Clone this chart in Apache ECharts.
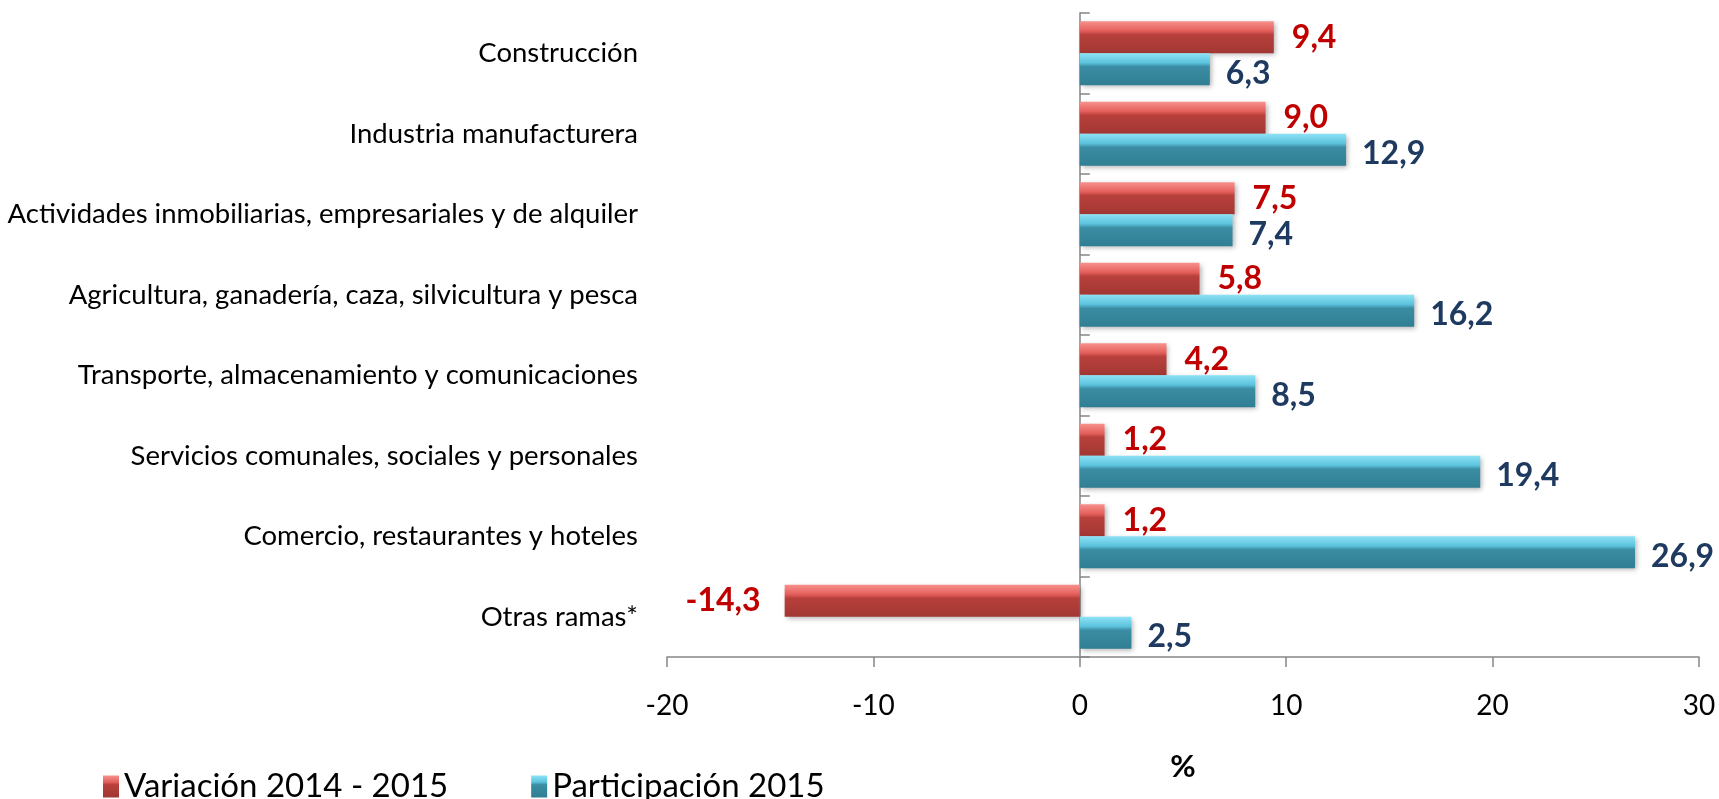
<!DOCTYPE html>
<html>
<head>
<meta charset="utf-8">
<script src="https://cdn.jsdelivr.net/npm/echarts@6/dist/echarts.min.js"></script>
<style>
    html, body { margin: 0; padding: 0; background: #fff; }
    #chart { width: 1719px; height: 799px; }
</style>
</head>
<body>
<div id="chart"></div>
<script>
// datos del gráfico
const categorias = [
    'Construcción',
    'Industria manufacturera',
    'Actividades inmobiliarias, empresariales y de alquiler',
    'Agricultura, ganadería, caza, silvicultura y pesca',
    'Transporte, almacenamiento y comunicaciones',
    'Servicios comunales, sociales y personales',
    'Comercio, restaurantes y hoteles',
    'Otras ramas*'
];
const variacion = [9.4, 9.0, 7.5, 5.8, 4.2, 1.2, 1.2, -14.3];
const participacion = [6.3, 12.9, 7.4, 16.2, 8.5, 19.4, 26.9, 2.5];
const seriesNames = ['Variación 2014 - 2015', 'Participación 2015'];
const ejeX = { min: -20, max: 30, interval: 10 };

const font = 'Lato';
const fmt = p => p.value.toFixed(1).replace('.', ',');

const redFill = new echarts.graphic.LinearGradient(0, 0, 0, 1, [
    { offset: 0, color: '#F7918D' },
    { offset: 0.3, color: '#E45F5B' },
    { offset: 0.42, color: '#B8403C' },
    { offset: 1, color: '#A23733' }
]);
const blueFill = new echarts.graphic.LinearGradient(0, 0, 0, 1, [
    { offset: 0, color: '#8DE2F5' },
    { offset: 0.3, color: '#5CC3DD' },
    { offset: 0.42, color: '#3B8DA3' },
    { offset: 1, color: '#307E93' }
]);

const chart = echarts.init(document.getElementById('chart'));
const option = {
    animation: false,
    grid: { left: 667, right: 20, top: 13, bottom: 142 },
    legend: {
        left: 98,
        top: 765,
        itemWidth: 16,
        itemHeight: 22,
        itemGap: 83,
        icon: 'rect',
        textStyle: { fontFamily: font, fontSize: 33, color: '#000' },
        data: seriesNames
    },
    xAxis: {
        type: 'value',
        min: ejeX.min,
        max: ejeX.max,
        interval: ejeX.interval,
        name: '%',
        nameLocation: 'middle',
        nameGap: 94,
        nameTextStyle: { fontFamily: font, fontSize: 31, fontWeight: 'bold', color: '#000' },
        axisLine: { show: true, lineStyle: { color: '#868686', width: 1.5 } },
        axisTick: { show: true, length: 10, lineStyle: { color: '#868686', width: 1.5 } },
        axisLabel: { fontFamily: font, fontSize: 28, color: '#000', margin: 35 },
        splitLine: { show: false }
    },
    yAxis: [
        {
            type: 'category',
            inverse: true,
            data: categorias,
            axisLine: { show: false, onZero: false },
            axisTick: { show: false },
            axisLabel: { fontFamily: font, fontSize: 27.5, color: '#000', margin: 29 }
        },
        {
            type: 'category',
            inverse: true,
            data: categorias,
            axisLine: { show: true, onZero: true, lineStyle: { color: '#868686', width: 1.5 } },
            axisTick: { show: true, length: 10, lineStyle: { color: '#868686', width: 1.5 } },
            axisLabel: { show: false }
        }
    ],
    series: [
        {
            name: seriesNames[0],
            type: 'bar',
            yAxisIndex: 0,
            barWidth: 32,
            barGap: '0%',
            itemStyle: {
                color: redFill,
                shadowBlur: 5,
                shadowColor: 'rgba(0,0,0,0.3)',
                shadowOffsetX: 2,
                shadowOffsetY: 2
            },
            label: {
                show: true,
                position: 'right',
                distance: 18,
                formatter: fmt,
                fontFamily: font,
                fontSize: 32,
                fontWeight: 'bold',
                color: '#C00000'
            },
            data: variacion.map(v => v < 0 ? { value: v, label: { position: 'left', distance: 24 } } : v)
        },
        {
            name: seriesNames[1],
            type: 'bar',
            yAxisIndex: 0,
            barWidth: 32,
            barGap: '0%',
            itemStyle: {
                color: blueFill,
                shadowBlur: 5,
                shadowColor: 'rgba(0,0,0,0.3)',
                shadowOffsetX: 2,
                shadowOffsetY: 2
            },
            label: {
                show: true,
                position: 'right',
                distance: 16,
                offset: [0, 4],
                formatter: fmt,
                fontFamily: font,
                fontSize: 32,
                fontWeight: 'bold',
                color: '#1F3A60'
            },
            data: participacion
        }
    ]
};
chart.setOption(option);
</script>
</body>
</html>
